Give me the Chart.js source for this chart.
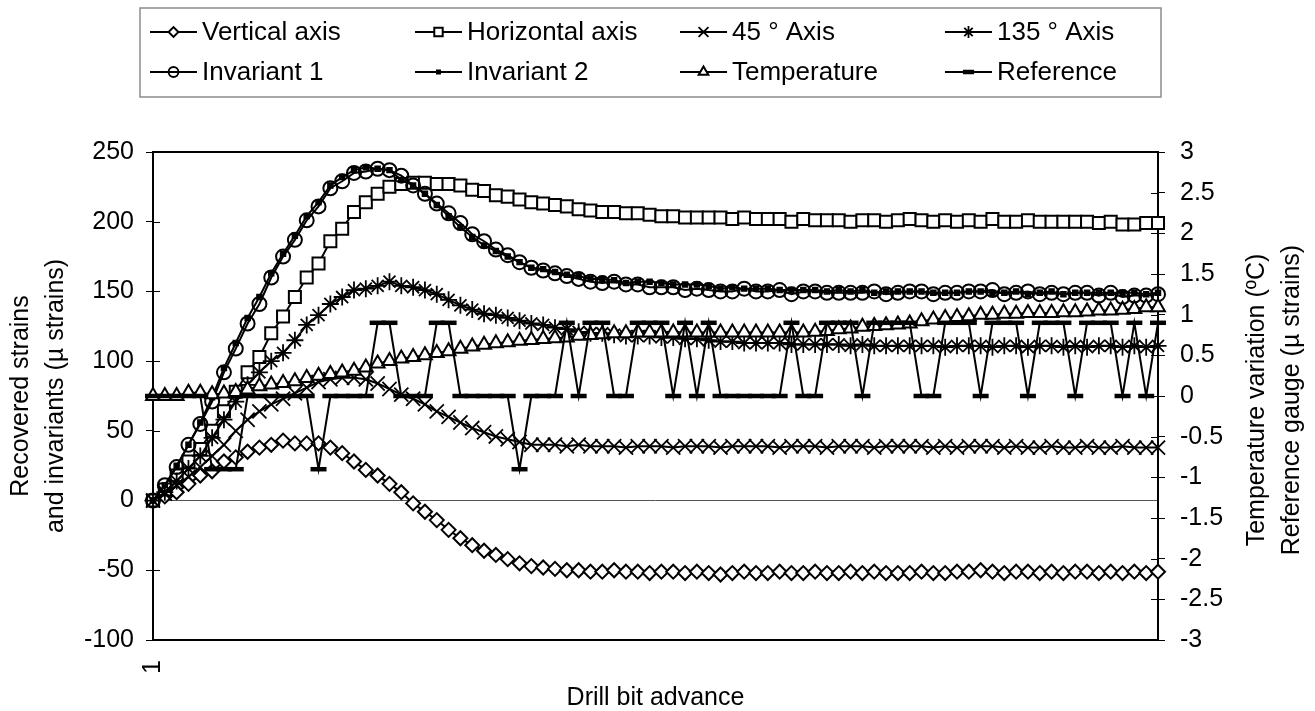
<!DOCTYPE html>
<html>
<head>
<meta charset="utf-8">
<script src="https://cdn.jsdelivr.net/npm/chart.js@4.4.1/dist/chart.umd.min.js"></script>
<style>
  html, body { margin: 0; padding: 0; background: #fff; }
  #wrap { position: relative; width: 1315px; height: 711px; }
</style>
</head>
<body>
<div id="wrap"><canvas id="c" width="1315" height="711"></canvas></div>
<script>
// Drill bit advance steps (86 readings)
const advance = Array.from({ length: 86 }, (_, i) => String(i + 1));

// Recovered strains (µ strains), left axis
const verticalAxis = [0, 3, 6, 12, 18, 21, 28, 31, 35, 38, 40, 43, 41, 41, 41, 38, 34, 28, 22, 18,
  12, 6, -2, -8, -14, -21, -27, -32, -36, -39, -42, -45, -47, -48, -49, -50, -50, -51, -51, -50,
  -51, -51, -52, -51, -51, -52, -51, -52, -53, -52, -51, -52, -52, -51, -52, -52, -51, -52, -52, -51,
  -52, -51, -52, -52, -52, -51, -52, -52, -51, -51, -50, -51, -52, -51, -51, -52, -51, -52, -51, -51,
  -52, -51, -52, -51, -52, -51];

const horizontalAxis = [0, 8, 18, 28, 37, 50, 64, 78, 92, 103, 120, 132, 146, 160, 170, 186, 195, 207, 214, 220,
  225, 227, 228, 228, 227, 227, 226, 223, 222, 219, 218, 216, 214, 213, 212, 211, 209, 208, 207, 207,
  206, 206, 205, 204, 204, 203, 203, 203, 203, 202, 203, 202, 202, 202, 200, 202, 201, 201, 201, 200,
  201, 201, 200, 201, 202, 201, 200, 201, 200, 201, 200, 202, 200, 200, 201, 200, 200, 200, 200, 200,
  199, 200, 198, 198, 199, 199];

const axis45 = [0, 5, 11, 17, 24, 32, 40, 50, 58, 64, 69, 73, 77, 81, 85, 87, 88, 88, 87, 84,
  80, 76, 73, 69, 64, 60, 56, 52, 49, 46, 44, 42, 40, 40, 40, 39, 40, 39, 39, 39,
  38, 39, 39, 39, 38, 39, 39, 39, 38, 39, 39, 39, 39, 38, 39, 39, 39, 38, 39, 39,
  39, 38, 39, 39, 39, 39, 38, 39, 38, 39, 39, 39, 38, 39, 38, 38, 39, 38, 38, 39,
  38, 38, 39, 38, 38, 38];

const axis135 = [0, 6, 14, 23, 32, 45, 58, 71, 83, 92, 100, 106, 115, 126, 133, 141, 146, 151, 152, 154,
  157, 154, 153, 151, 148, 144, 140, 137, 134, 133, 131, 129, 127, 126, 124, 123, 121, 120, 120, 119,
  118, 118, 118, 117, 117, 116, 116, 115, 114, 114, 113, 113, 113, 113, 112, 112, 112, 112, 112, 111,
  112, 111, 111, 111, 111, 111, 111, 110, 111, 111, 111, 110, 111, 111, 110, 111, 111, 110, 111, 110,
  111, 111, 110, 111, 110, 111];

const invariant1 = [0, 11, 24, 40, 55, 71, 92, 109, 127, 141, 160, 175, 187, 201, 211, 224, 229, 235, 236, 238,
  237, 233, 226, 220, 213, 206, 199, 191, 186, 180, 176, 171, 167, 165, 163, 161, 159, 157, 156, 157,
  155, 155, 153, 153, 153, 151, 152, 151, 150, 150, 152, 150, 150, 151, 148, 150, 150, 149, 149, 149,
  149, 150, 148, 149, 150, 150, 148, 149, 149, 150, 150, 151, 148, 149, 150, 148, 149, 148, 149, 149,
  147, 149, 146, 147, 147, 148];

const invariant2 = [0, 11, 25, 40, 56, 74, 95, 113, 131, 146, 163, 177, 190, 204, 214, 226, 232, 237, 239, 238,
  237, 230, 226, 220, 212, 204, 196, 189, 183, 179, 175, 171, 167, 166, 164, 162, 161, 159, 159, 158,
  156, 157, 157, 156, 155, 155, 155, 154, 152, 153, 152, 152, 152, 151, 151, 151, 151, 150, 151, 150,
  151, 149, 150, 150, 150, 150, 149, 149, 149, 150, 150, 149, 149, 150, 148, 149, 150, 148, 149, 149,
  149, 149, 149, 149, 148, 149];

// Temperature variation (ºC), right axis
const temperature = [0, 0, 0, 0.04, 0.04, 0.02, 0.03, 0.05, 0.08, 0.12, 0.14, 0.16, 0.18, 0.22, 0.25, 0.27, 0.29, 0.31, 0.35, 0.40,
  0.43, 0.46, 0.48, 0.50, 0.53, 0.55, 0.58, 0.61, 0.63, 0.65, 0.66, 0.68, 0.69, 0.70, 0.71, 0.72, 0.74, 0.75, 0.76, 0.77,
  0.77, 0.78, 0.78, 0.78, 0.78, 0.78, 0.78, 0.78, 0.78, 0.78, 0.78, 0.78, 0.78, 0.78, 0.78, 0.78, 0.79, 0.80, 0.82, 0.83,
  0.85, 0.86, 0.87, 0.88, 0.89, 0.92, 0.94, 0.96, 0.97, 0.98, 1.00, 1.00, 1.01, 1.01, 1.02, 1.02, 1.02, 1.03, 1.03, 1.04,
  1.05, 1.05, 1.06, 1.07, 1.09, 1.09];

// Reference gauge (µ strains), right axis
const reference = [0, 0, 0, 0, 0, -0.9, -0.9, -0.9, 0, 0, 0, 0, 0, 0, -0.9, 0, 0, 0, 0, 0.9,
  0.9, 0, 0, 0, 0.9, 0.9, 0, 0, 0, 0, 0, -0.9, 0, 0, 0, 0.9, 0, 0.9, 0.9, 0,
  0, 0.9, 0.9, 0.9, 0, 0.9, 0, 0.9, 0, 0, 0, 0, 0, 0, 0.9, 0, 0, 0.9, 0.9, 0.9,
  0, 0.9, 0.9, 0.9, 0.9, 0, 0, 0.9, 0.9, 0.9, 0, 0.9, 0.9, 0.9, 0, 0.9, 0.9, 0.9, 0, 0.9,
  0.9, 0.9, 0, 0.9, 0, 0.9];

const leftTicks = { min: -100, max: 250, step: 50 };
const rightTicks = { min: -3, max: 3, step: 0.5 };

const FONT = "'Liberation Sans', Arial, Helvetica, sans-serif";
Chart.defaults.font.family = FONT;
Chart.defaults.color = '#000';

function series(label, data, axis, style, radius, fill, pointWidth, order) {
  return {
    label, data, yAxisID: axis,
    borderColor: '#000', borderWidth: 2, tension: 0, fill: false,
    pointStyle: style, pointRadius: radius, pointHoverRadius: radius,
    pointBackgroundColor: fill, pointBorderColor: '#000', pointBorderWidth: pointWidth,
    clip: false, order
  };
}

const datasets = [
  series('Vertical axis', verticalAxis, 'y', 'rectRot', 7, '#fff', 2, 8),
  series('Horizontal axis', horizontalAxis, 'y', 'rect', 8.5, '#fff', 2, 7),
  series('45 ° Axis', axis45, 'y', 'crossRot', 10, '#000', 1.8, 6),
  series('135 ° Axis', axis135, 'y', 'star', 8.5, '#000', 1.8, 5),
  series('Invariant 1', invariant1, 'y', 'circle', 7, 'rgba(0,0,0,0)', 2, 4),
  series('Invariant 2', invariant2, 'y', 'rect', 3.5, '#000', 1.5, 3),
  series('Temperature', temperature, 'y1', 'triangle', 8, '#fff', 2, 2),
  series('Reference', reference, 'y1', 'line', 8, '#000', 4.5, 1)
];

// plot frame and the inner half of the cross tick marks
const frame = {
  id: 'frame',
  beforeDatasetsDraw(chart) {
    const { ctx, chartArea: a, scales } = chart;
    ctx.save();
    ctx.strokeStyle = '#000';
    ctx.lineWidth = 2;
    ctx.strokeRect(a.left, a.top, a.right - a.left, a.bottom - a.top);
    ctx.lineWidth = 1;
    scales.y.ticks.forEach(t => {
      const py = Math.round(scales.y.getPixelForValue(t.value)) + 0.5;
      ctx.beginPath(); ctx.moveTo(a.left, py); ctx.lineTo(a.left + 7, py); ctx.stroke();
    });
    scales.y1.ticks.forEach(t => {
      const py = Math.round(scales.y1.getPixelForValue(t.value)) + 0.5;
      ctx.beginPath(); ctx.moveTo(a.right - 7, py); ctx.lineTo(a.right, py); ctx.stroke();
    });
    ctx.restore();
  }
};

// boxed legend in a 4 x 2 grid
const gridLegend = {
  id: 'gridLegend',
  afterDraw(chart) {
    const ctx = chart.ctx;
    const a = chart.chartArea;
    ctx.save();
    ctx.strokeStyle = '#8c8c8c';
    ctx.lineWidth = 1.5;
    ctx.strokeRect(a.left - 13, 8, a.right - a.left + 16, 89);
    ctx.font = '26px ' + FONT;
    ctx.textBaseline = 'middle';
    ctx.textAlign = 'left';
    chart.data.datasets.forEach((d, k) => {
      const col = k % 4, row = Math.floor(k / 4);
      const x0 = a.left - 3 + col * 265;
      const y = 32 + row * 40;
      ctx.strokeStyle = '#000';
      ctx.lineWidth = d.borderWidth;
      ctx.beginPath(); ctx.moveTo(x0, y); ctx.lineTo(x0 + 47, y); ctx.stroke();
      ctx.lineWidth = d.pointBorderWidth;
      ctx.fillStyle = d.pointBackgroundColor;
      Chart.helpers.drawPoint(ctx, {
        pointStyle: d.pointStyle, rotation: 0,
        radius: d.pointRadius * 0.7, borderWidth: d.pointBorderWidth
      }, x0 + 23.5, y);
      ctx.fillStyle = '#000';
      ctx.fillText(d.label, x0 + 52, y + 1);
    });
    ctx.restore();
  }
};

// right-hand axis title, read bottom to top
const rightTitle = {
  id: 'rightTitle',
  afterDraw(chart) {
    const { ctx, chartArea: a } = chart;
    const lines = ['Temperature variation (ºC)', 'Reference gauge (µ strains)'];
    ctx.save();
    ctx.font = '25px ' + FONT;
    ctx.fillStyle = '#000';
    ctx.textAlign = 'center';
    ctx.textBaseline = 'middle';
    const cy = (a.top + a.bottom) / 2 + 4;
    lines.forEach((t, i) => {
      ctx.save();
      ctx.translate(a.right + 99 + i * 35, cy);
      ctx.rotate(-Math.PI / 2);
      ctx.fillText(t, 0, 0);
      ctx.restore();
    });
    ctx.restore();
  }
};

new Chart(document.getElementById('c'), {
  type: 'line',
  data: { labels: advance, datasets },
  options: {
    responsive: false,
    animation: false,
    devicePixelRatio: 1,
    layout: { padding: { top: 152, left: 0, right: 0, bottom: 0 } },
    plugins: { legend: { display: false }, tooltip: { enabled: false } },
    scales: {
      x: {
        type: 'category', offset: false,
        grid: { display: false, drawTicks: false },
        border: { display: false },
        ticks: {
          autoSkip: false, minRotation: 90, maxRotation: 90, padding: 20,
          font: { size: 25 },
          callback: (v, i) => (i === 0 ? advance[0] : '')
        },
        title: { display: true, text: 'Drill bit advance', font: { size: 25, lineHeight: 1 }, padding: { top: 0, bottom: 0 } },
        afterFit: s => { s.height = 71; }
      },
      y: {
        position: 'left',
        min: leftTicks.min, max: leftTicks.max,
        ticks: { stepSize: leftTicks.step, font: { size: 25 }, padding: 12 },
        grid: {
          color: c => (c.tick && c.tick.value === 0 ? '#555' : 'rgba(0,0,0,0)'),
          tickColor: '#000', tickLength: 7, lineWidth: 1
        },
        border: { display: false },
        title: {
          display: true, text: ['Recovered strains', 'and invariants (µ strains)'],
          font: { size: 25, lineHeight: 1.4 }, padding: { top: 4, bottom: 0 }
        },
        afterFit: s => { s.width = 153; }
      },
      y1: {
        position: 'right',
        min: rightTicks.min, max: rightTicks.max,
        ticks: {
          stepSize: rightTicks.step, font: { size: 25 }, padding: 15,
          callback: v => String(Math.round(v * 10) / 10)
        },
        grid: { drawOnChartArea: false, tickColor: '#000', tickLength: 7 },
        border: { display: false },
        afterFit: s => { s.width = 157; }
      }
    }
  },
  plugins: [frame, gridLegend, rightTitle]
});
</script>
</body>
</html>
